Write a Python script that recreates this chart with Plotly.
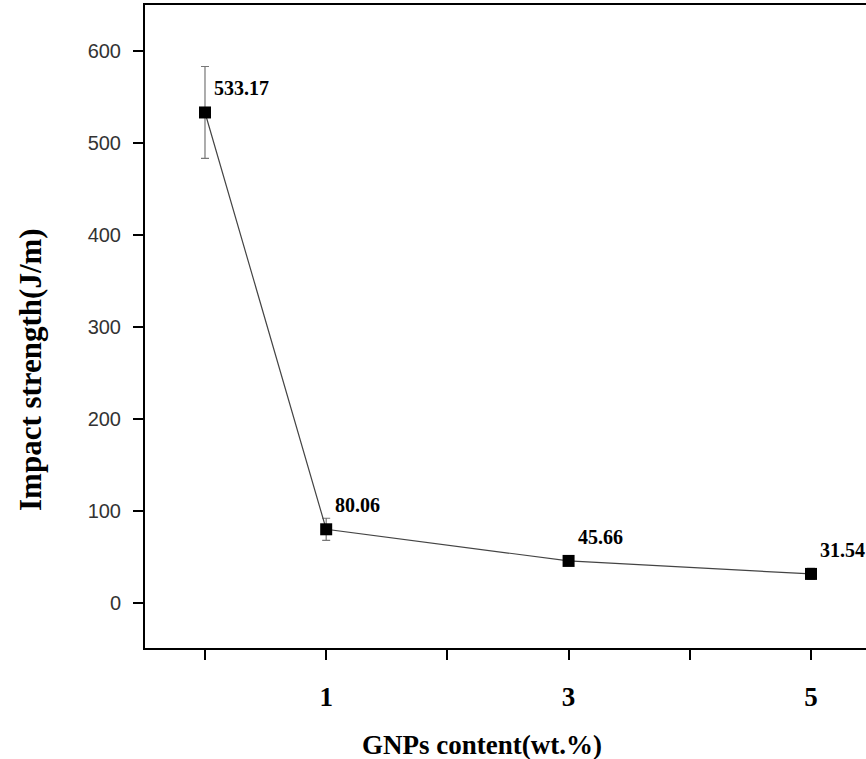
import plotly.graph_objects as go

# Impact strength vs. GNPs loading
gnps_content = [0, 1, 3, 5]
impact_strength = [533.17, 80.06, 45.66, 31.54]
strength_error = [50, 12, 5, 6]

x_tick_vals = [0, 1, 2, 3, 4, 5]
x_tick_text = ["", "1", "", "3", "", "5"]
y_tick_vals = [0, 100, 200, 300, 400, 500, 600]

serif = "Liberation Serif, Times New Roman, serif"
sans = "Liberation Sans, Arial, sans-serif"

fig = go.Figure()

fig.add_trace(go.Scatter(
    x=gnps_content,
    y=impact_strength,
    mode="lines+markers",
    line=dict(color="#444444", width=1.2),
    marker=dict(symbol="square", size=12, color="black"),
    error_y=dict(type="data", array=strength_error, visible=True,
                 color="#777777", thickness=1.2, width=4),
    showlegend=False,
    cliponaxis=False,
))

# value labels beside each point
for xv, yv in zip(gnps_content, impact_strength):
    fig.add_annotation(
        x=xv, y=yv, xref="x", yref="y",
        text=f"{yv:.2f}", showarrow=False,
        xanchor="left", yanchor="middle",
        xshift=7, yshift=24,
        font=dict(family=serif, size=20, color="black", weight="bold"),
    )

plot_left, plot_right = 145, 866
plot_top, plot_bottom = 5, 648

# axis titles
fig.add_annotation(
    x=(30 - plot_left) / (plot_right - plot_left),
    y=(plot_bottom - 369) / (plot_bottom - plot_top),
    xref="paper", yref="paper",
    text="Impact strength(J/m)", showarrow=False, textangle=-90,
    xanchor="center", yanchor="middle",
    font=dict(family=serif, size=31, color="black", weight="bold"),
)
fig.add_annotation(
    x=(482 - plot_left) / (plot_right - plot_left), y=0,
    xref="paper", yref="paper",
    text="GNPs content(wt.%)", showarrow=False,
    xanchor="center", yanchor="middle", yshift=-97,
    font=dict(family=serif, size=27, color="black", weight="bold"),
)

fig.update_xaxes(
    range=[-0.495, 5.454],
    tickmode="array", tickvals=x_tick_vals, ticktext=x_tick_text,
    ticks="outside", ticklen=10, tickwidth=2, tickcolor="black",
    ticklabelstandoff=14,
    tickfont=dict(family=serif, size=27, color="black", weight="bold"),
    showline=True, linecolor="black", linewidth=2, mirror=True,
    showgrid=False, zeroline=False,
)
fig.update_yaxes(
    range=[-49, 650],
    tickmode="array", tickvals=y_tick_vals,
    ticks="outside", ticklen=10, tickwidth=2, tickcolor="black",
    ticklabelstandoff=8,
    tickfont=dict(family=sans, size=20, color="#333333"),
    showline=True, linecolor="black", linewidth=2, mirror=False,
    showgrid=False, zeroline=False,
)

fig.update_layout(
    width=866, height=759,
    margin=dict(l=plot_left, r=0, t=plot_top, b=759 - plot_bottom),
    plot_bgcolor="white", paper_bgcolor="white",
)

fig.write_html("out.html")
